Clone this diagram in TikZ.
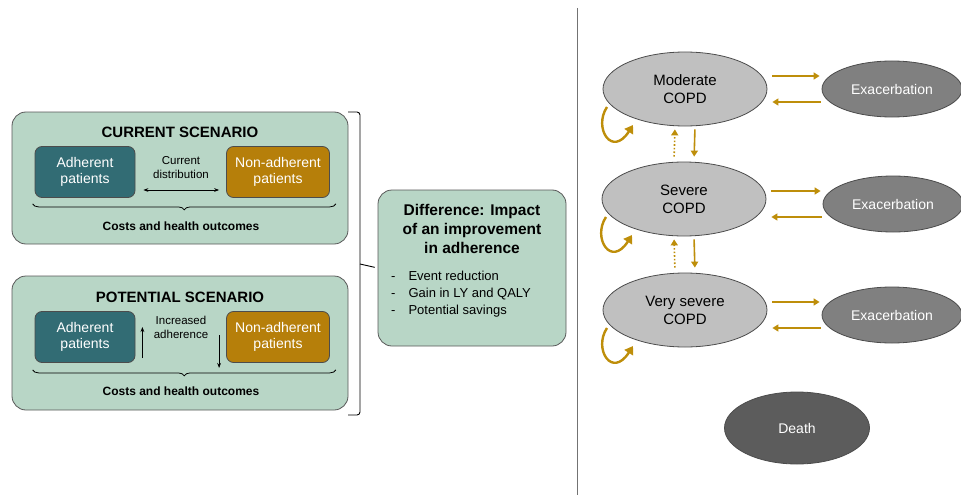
\documentclass[tikz,border=0pt]{standalone}
\usepackage{fontspec}
\setmainfont{Liberation Sans}
\usetikzlibrary{shapes.geometric,arrows.meta,decorations.pathreplacing}
\definecolor{mint}{RGB}{184,214,198}
\definecolor{tealbox}{RGB}{50,108,116}
\definecolor{ochrebox}{RGB}{182,127,10}
\definecolor{ochre}{RGB}{190,142,10}
\definecolor{lightg}{RGB}{192,192,192}
\definecolor{midg}{RGB}{128,128,128}
\definecolor{darkg}{RGB}{92,92,92}

\begin{document}
\begin{tikzpicture}[x=1pt,y=-1pt,
  scenario/.style={draw=black!65,fill=mint,rounded corners=14pt,line width=0.8pt,minimum width=336pt,minimum height=132pt},
  adh/.style={draw=black!70,fill=tealbox,text=white,rounded corners=7pt,line width=0.8pt,minimum width=100pt,minimum height=51pt,align=center,font=\fontsize{14}{16}\selectfont},
  nonadh/.style={adh,fill=ochrebox,minimum width=103pt},
  title/.style={font=\bfseries\fontsize{15}{18}\selectfont},
  small/.style={font=\fontsize{11.5}{14}\selectfont,align=center},
  costs/.style={font=\bfseries\fontsize{12}{14}\selectfont},
  curly/.style={decorate,decoration={brace,amplitude=6pt},line width=0.8pt},
  curlyd/.style={curly,decoration={mirror}},
  stage/.style={ellipse,draw=black!70,fill=lightg,line width=0.8pt,minimum width=164pt,minimum height=74pt,inner sep=0pt,align=center,font=\fontsize{15}{18}\selectfont},
  exac/.style={stage,fill=midg,text=white,minimum width=140pt,minimum height=56pt,font=\fontsize{14}{16}\selectfont},
  dead/.style={exac,fill=darkg,minimum width=145pt,minimum height=72pt},
  flow/.style={draw=ochre,line width=1.6pt,-{Triangle[length=6pt,width=7pt]}},
  loopy/.style={flow,line width=2.4pt,-{Triangle[length=8pt,width=10pt]}}]
  \useasboundingbox (0,0) rectangle (961,495);

  \node[scenario] (cur) at (180,178) {};
  \node[title] (curtitle) at (180,132) {CURRENT SCENARIO};
  \node[adh] (ad1) at (85,172) {Adherent\\patients};
  \node[nonadh] (nad1) at (278,172) {Non-adherent\\patients};
  \node[small] (distr) at (181,168) {Current\\distribution};
  \draw[{Stealth[length=5pt]}-{Stealth[length=5pt]},line width=0.8pt] ([shift={(8,18)}]ad1.east) -- ([shift={(-7,18)}]nad1.west);
  \draw[curlyd] ([shift={(-2,6)}]ad1.south west) -- ([shift={(6,6)}]nad1.south east);
  \node[costs] (cost1) at (181,226) {Costs and health outcomes};

  \node[scenario,minimum height=134pt] (pot) at (180,343) {};
  \node[title] (pottitle) at (180,297) {POTENTIAL SCENARIO};
  \node[adh] (ad2) at (85,337) {Adherent\\patients};
  \node[nonadh] (nad2) at (278,337) {Non-adherent\\patients};
  \node[small] (incr) at (181,327) {Increased\\adherence};
  \draw[-{Stealth[length=5pt]},line width=0.8pt] ([shift={(7,21)}]ad2.east) -- ([shift={(7,-10)}]ad2.east);
  \draw[-{Stealth[length=5pt]},line width=0.8pt] ([shift={(-7,-2)}]nad2.west) -- ([shift={(-7,31)}]nad2.west);
  \draw[curlyd] ([shift={(-2,7)}]ad2.south west) -- ([shift={(6,7)}]nad2.south east);
  \node[costs] (cost2) at (181,391) {Costs and health outcomes};

  \node[scenario,minimum width=188pt,minimum height=156pt] (diff) at (472,268) {};
  \node[align=center,font=\bfseries\fontsize{15.5}{19}\selectfont] (difftitle) at (472,229) {Difference: Impact\\of an improvement\\in adherence};
  \node[anchor=west,inner sep=0pt,font=\fontsize{13}{17}\selectfont] (gains) at (391,294)
    {\begin{tabular}{@{}l@{\hspace{13pt}}l@{}}-&Event reduction\\-&Gain in LY and QALY\\-&Potential savings\end{tabular}};

  \draw[line width=0.9pt,rounded corners=3pt] (348,112) -| (360,415) -- (348,415);
  \draw[line width=0.9pt,shorten >=3pt] (360,264) -- (diff.west);

  \draw[black!55,line width=1pt] (577,8) -- (577,495);

  \node[stage] (mod) at (685,89) {Moderate\\COPD};
  \node[stage] (sev) at (684,199) {Severe\\COPD};
  \node[stage] (vsev) at (685,310) {Very severe\\COPD};
  \node[exac] (ex1) at (892,89) {Exacerbation};
  \node[exac] (ex2) at (893,204) {Exacerbation};
  \node[exac] (ex3) at (892,315) {Exacerbation};
  \node[dead] (death) at (797,428) {Death};

  \foreach \s/\e in {mod/ex1,sev/ex2,vsev/ex3}{
    \draw[flow,shorten <=5pt,shorten >=2pt] ([yshift=13pt]\e.west -| \s.east) -- ([yshift=13pt]\e.west);
    \draw[flow,shorten <=1pt,shorten >=5pt] ([yshift=-13pt]\e.west) -- ([yshift=-13pt]\e.west -| \s.east);
    \draw[loopy] ([shift={(-78,18)}]\s.center) .. controls +(-14,21) and +(-21,33) .. ([shift={(-52,36)}]\s.center);
  }
  \foreach \a/\b in {mod/sev,sev/vsev}{
    \draw[flow,dotted,shorten <=5pt,shorten >=3pt] ([xshift=-10pt]\b.north) -- ([xshift=-10pt]\a.south);
    \draw[flow,shorten <=3pt,shorten >=5pt] ([xshift=10pt]\a.south) -- ([xshift=10pt]\b.north);
  }
\end{tikzpicture}
\end{document}
